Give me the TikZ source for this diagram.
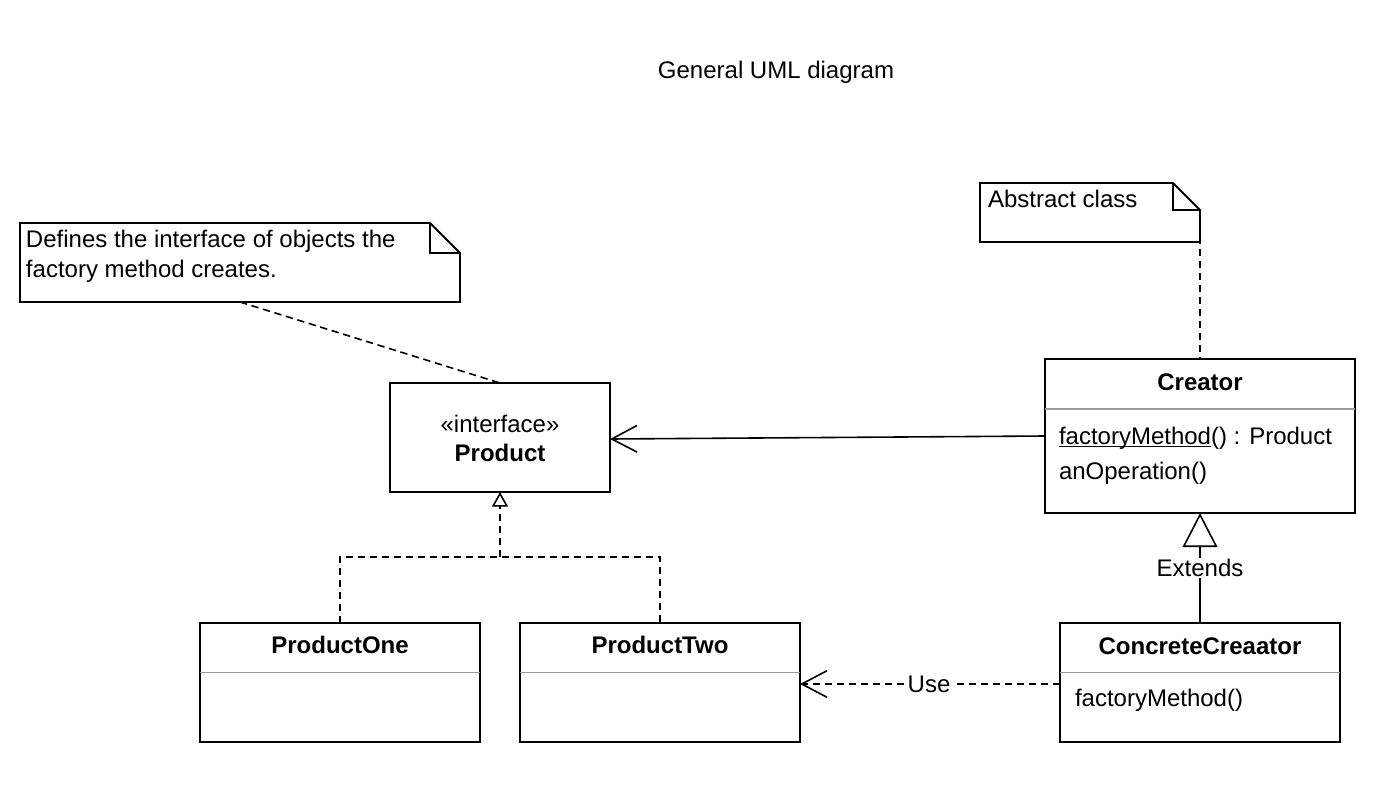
\documentclass[tikz,border=0pt]{standalone}
\usepackage{fontspec}
\setmainfont{Liberation Sans}
\usetikzlibrary{arrows.meta,calc}
\newcommand\myul[1]{\setbox0\hbox{#1}\rlap{\rule[-2.2pt]{\wd0}{0.9pt}}#1}
\tikzset{
  every node/.style={font=\fontsize{18}{21}\selectfont, inner sep=0pt, outer sep=0pt},
  box/.style={draw, line width=1.4pt, anchor=north west, fill=white},
  sep/.style={draw=black!40, line width=1pt},
  txt/.style={anchor=base west},
  ctxt/.style={anchor=base},
  lnk/.style={line width=1.2pt},
  dsh/.style={line width=1.2pt, dash pattern=on 5.5pt off 3.5pt},
  open/.style={-{Straight Barb[length=19pt,width=20pt,line width=1.2pt]}},
  real/.style={-{Triangle[open,length=11pt,width=12pt,line width=1.2pt]}},
  gen/.style={-{Triangle[open,length=25.5pt,width=26pt,line width=1.2pt]}},
  lbl/.style={fill=white, inner sep=1pt},
}
\begin{document}
\begin{tikzpicture}[x=0.75pt,y=-0.75pt]
\useasboundingbox[fill=white] (0,0) rectangle (1394,792);

% title
\node[ctxt] (title) at (776,79) {General UML diagram};

% notes
\node[anchor=north west, minimum width=330pt, minimum height=59.25pt] (note1) at (20,223) {};
\draw[line width=1.4pt, fill=white] (note1.north west) -- ($(note1.north east)+(-30,0)$) -- ($(note1.north east)+(0,30)$) -- (note1.south east) -- (note1.south west) -- cycle;
\draw[line width=1.4pt] ($(note1.north east)+(-30,0)$) -- ($(note1.north east)+(-30,30)$) -- ($(note1.north east)+(0,30)$);
\node[txt] (n1a) at (26,247) {Defines the interface of objects the};
\node[txt] (n1b) at (26,277) {factory method creates.};

\node[anchor=north west, minimum width=165pt, minimum height=44.25pt] (note2) at (980,183) {};
\draw[line width=1.4pt, fill=white] (note2.north west) -- ($(note2.north east)+(-27,0)$) -- ($(note2.north east)+(0,27)$) -- (note2.south east) -- (note2.south west) -- cycle;
\draw[line width=1.4pt] ($(note2.north east)+(-27,0)$) -- ($(note2.north east)+(-27,27)$) -- ($(note2.north east)+(0,27)$);
\node[txt] (n2a) at (988,207) {Abstract class};

% Product interface
\node[box, minimum width=165pt, minimum height=81.75pt] (product) at (390,383) {};
\node[ctxt] (prodst) at (500,432) {«interface»};
\node[ctxt] (prodnm) at (500,461) {\bfseries Product};

% Creator
\node[box, minimum width=232.5pt, minimum height=115.5pt] (creator) at (1045,359) {};
\draw[sep] (creator.west |- 0,409) -- (creator.east |- 0,409);
\node[ctxt] (crnm) at (1200,390) {\bfseries Creator};
\node[txt] (crm1) at (1059,444) {\myul{factoryMethod}() : Product};
\node[txt] (crm2) at (1059,479) {anOperation()};

% ProductOne
\node[box, minimum width=210pt, minimum height=89.25pt] (po) at (200,623) {};
\draw[sep] (po.west |- 0,672.5) -- (po.east |- 0,672.5);
\node[ctxt] (ponm) at (340,653) {\bfseries ProductOne};

% ProductTwo
\node[box, minimum width=210pt, minimum height=89.25pt] (pt) at (520,623) {};
\draw[sep] (pt.west |- 0,672.5) -- (pt.east |- 0,672.5);
\node[ctxt] (ptnm) at (660,653) {\bfseries ProductTwo};

% ConcreteCreaator
\node[box, minimum width=210pt, minimum height=89.25pt] (cc) at (1060,623) {};
\draw[sep] (cc.west |- 0,672.5) -- (cc.east |- 0,672.5);
\node[ctxt] (ccnm) at (1200,654) {\bfseries ConcreteCreaator};
\node[txt] (ccm1) at (1075,706) {factoryMethod()};

% connectors
\draw[dsh] (note1.south) -- (product.north);
\draw[dsh] (note2.east) -- (creator.north);

\draw[lnk, open] ($(creator.north west)+(0,77)$) -- ($(product.north east)+(0,56)$);

\coordinate (junc) at (500,557);
\draw[dsh] (po.north) |- (junc) -| (pt.north);
\draw[dsh, real] (junc) -- (product.south);

\draw[lnk, gen] (cc.north) -- (creator.south);
\node[lbl] (ext) at (1200,568) {Extends};

\draw[dsh, open] ($(cc.north west)+(0,61)$) -- ($(pt.north east)+(0,61)$);
\node[lbl] (use) at (929,684) {Use};
\end{tikzpicture}
\end{document}
